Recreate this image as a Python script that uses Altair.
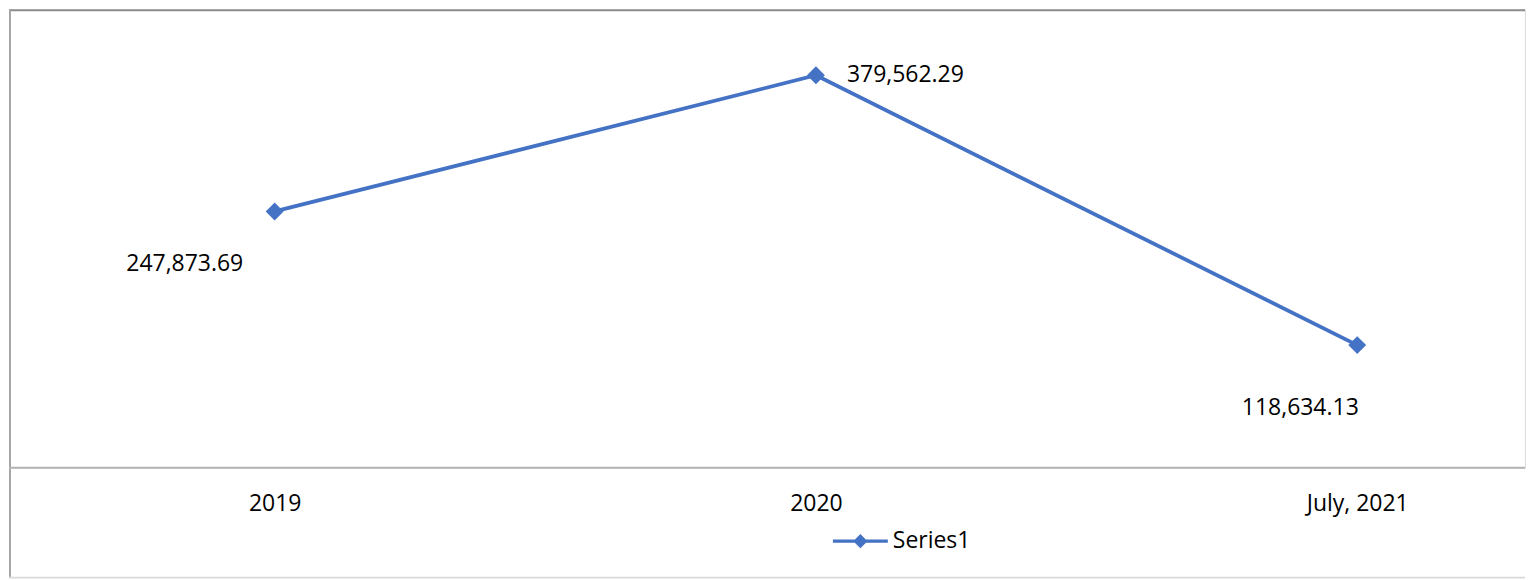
import altair as alt
import pandas as pd

periods = ["2019", "2020", "July, 2021"]
values = [247873.69, 379562.29, 118634.13]
series = ["Series1", "Series1", "Series1"]

df = pd.DataFrame({"period": periods, "value": values, "series": series})

BLUE = "#4472C4"
FONT = "Open Sans"
FS = 23
W, H = 1518, 459

x = alt.X("period:N", sort=periods,
          scale=alt.Scale(type="point", range=[266, 1350], padding=0),
          axis=alt.Axis(title=None, ticks=False, domain=False, grid=False,
                        labelAngle=0, labelFont=FONT, labelFontSize=FS,
                        labelColor="#000000", labelBaseline="middle",
                        labelPadding=36))
y = alt.Y("value:Q", scale=alt.Scale(domain=[0, 443300], nice=False, zero=False),
          axis=None)

base = alt.Chart(df)

line = base.mark_line(color=BLUE, strokeWidth=3.8).encode(x=x, y=y)

legend_path = ("M-1,-0.06L1,-0.06L1,0.06L-1,0.06Z"
               "M-0.26,0L0,-0.26L0.26,0L0,0.26Z")

points = base.mark_point(filled=True, shape="diamond", size=320, opacity=1).encode(
    x=x, y=y,
    color=alt.Color("series:N",
                    scale=alt.Scale(range=[BLUE]),
                    legend=alt.Legend(title=None, orient="none", legendX=825,
                                      legendY=505, symbolType=legend_path,
                                      symbolSize=3025, symbolStrokeWidth=0,
                                      symbolOpacity=1,
                                      labelFont=FONT, labelFontSize=FS,
                                      labelColor="#000000", labelOffset=5,
                                      padding=0)))

fmt = ",.2f"
lab0 = base.transform_filter(alt.datum.period == periods[0]).mark_text(
    font=FONT, fontSize=FS, color="#000000", align="center", baseline="middle",
    dx=-90, dy=53).encode(x=x, y=y, text=alt.Text("value:Q", format=fmt))
lab1 = base.transform_filter(alt.datum.period == periods[1]).mark_text(
    font=FONT, fontSize=FS, color="#000000", align="left", baseline="middle",
    dx=31, dy=0).encode(x=x, y=y, text=alt.Text("value:Q", format=fmt))
lab2 = base.transform_filter(alt.datum.period == periods[2]).mark_text(
    font=FONT, fontSize=FS, color="#000000", align="center", baseline="middle",
    dx=-57, dy=63).encode(x=x, y=y, text=alt.Text("value:Q", format=fmt))

axis_line = alt.Chart(pd.DataFrame({"v": [0]})).mark_rule(
    color="#b4b4b4", strokeWidth=2).encode(
    y=alt.Y("v:Q", scale=alt.Scale(domain=[0, 443300], nice=False, zero=False), axis=None))

frame_top = alt.Chart(pd.DataFrame({"v": [0]})).mark_rule(
    color="#8c8c8c", strokeWidth=2).encode(
    y=alt.value(1), x=alt.value(0), x2=alt.value(W))
frame_left = alt.Chart(pd.DataFrame({"v": [0]})).mark_rule(
    color="#a6a6a6", strokeWidth=2).encode(
    x=alt.value(1), y=alt.value(0), y2=alt.value(569))
frame_bottom = alt.Chart(pd.DataFrame({"v": [0]})).mark_rule(
    color="#d9d9d9", strokeWidth=2).encode(
    y=alt.value(569), x=alt.value(0), x2=alt.value(W))

chart = alt.layer(frame_top, frame_left, frame_bottom, axis_line, line, points,
                  lab0, lab1, lab2).properties(
    width=W, height=H, padding=0
).configure_view(stroke=None).configure(background="#ffffff")

chart.save("out.html", embed_options={"renderer": "svg", "actions": False})
